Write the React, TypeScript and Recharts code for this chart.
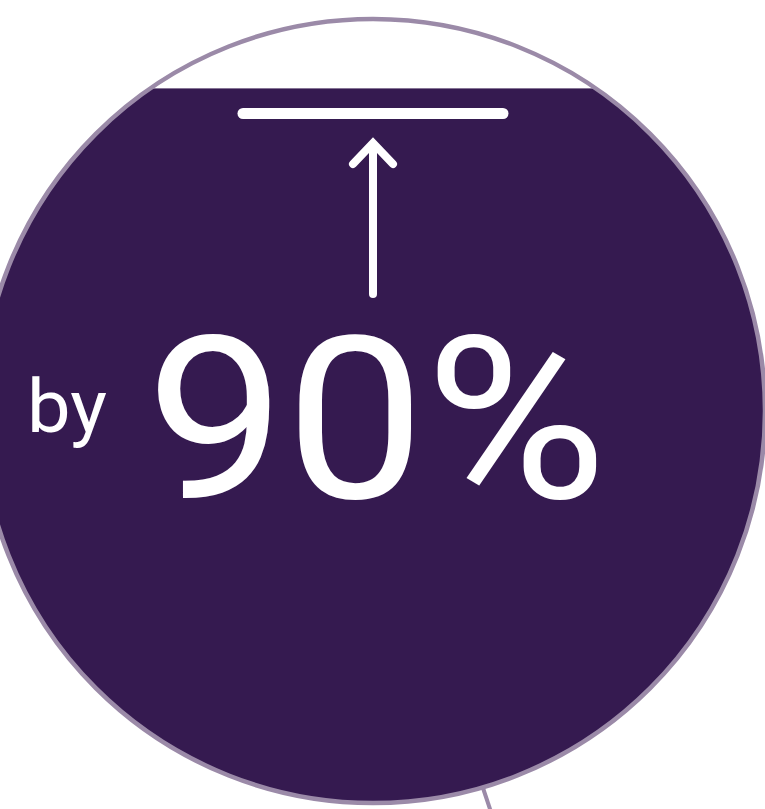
import React from 'react';
import { BarChart, Bar, XAxis, YAxis } from 'recharts';

const categories = ['Reduction'];
const values = [90];
const prefixLabels = ['by'];

const data = categories.map((c, i) => ({ name: c, value: values[i], prefix: prefixLabels[i] }));

const W = 765;
const H = 809;
const CX = 373;
const CY = 411;
const R = 392;
const PURPLE = '#351A50';
const BORDER = '#9B8AA8';

const Shape = (props: any) => {
  const { y, height, payload } = props;
  const top = y;
  const bottom = y + height;
  return (
    <g>
      <defs>
        <clipPath id="circClip">
          <circle cx={CX} cy={CY} r={R} />
        </clipPath>
      </defs>
      <line x1={483} y1={788} x2={492} y2={815} stroke={BORDER} strokeWidth={4} />
      <circle cx={CX} cy={CY} r={R} fill="#ffffff" />
      <rect x={0} y={top} width={W} height={bottom - top + 20} fill={PURPLE} clipPath="url(#circClip)" />
      <circle cx={CX} cy={CY} r={R} fill="none" stroke={BORDER} strokeWidth={4.5} />
      <line x1={243} y1={113.5} x2={503} y2={113.5} stroke="#fff" strokeWidth={11} strokeLinecap="round" />
      <line x1={373} y1={146} x2={373} y2={294} stroke="#fff" strokeWidth={8} strokeLinecap="round" />
      <polyline points="353,164 373,143 393,164" fill="none" stroke="#fff" strokeWidth={8} strokeLinecap="round" strokeLinejoin="miter" />
      <text x={27} y={432} fill="#fff" fontFamily="Roboto, sans-serif" fontWeight={400} fontSize={74} textLength={80} lengthAdjust="spacingAndGlyphs">
        {payload.prefix}
      </text>
      <text x={146} y={498} fill="#fff" fontFamily="Roboto, sans-serif" fontWeight={400} fontSize={226} textLength={461} lengthAdjust="spacingAndGlyphs">
        {`${payload.value}%`}
      </text>
    </g>
  );
};

export default function App() {
  return (
    <div style={{ position: 'absolute', left: 0, top: 0, width: W, height: H, overflow: 'hidden' }}>
      <BarChart width={W} height={H} data={data} margin={{ top: 9, right: 0, bottom: 6, left: 0 }} barCategoryGap={0}>
        <XAxis dataKey="name" hide />
        <YAxis hide domain={[0, 100]} />
        <Bar dataKey="value" isAnimationActive={false} shape={<Shape />} />
      </BarChart>
    </div>
  );
}
